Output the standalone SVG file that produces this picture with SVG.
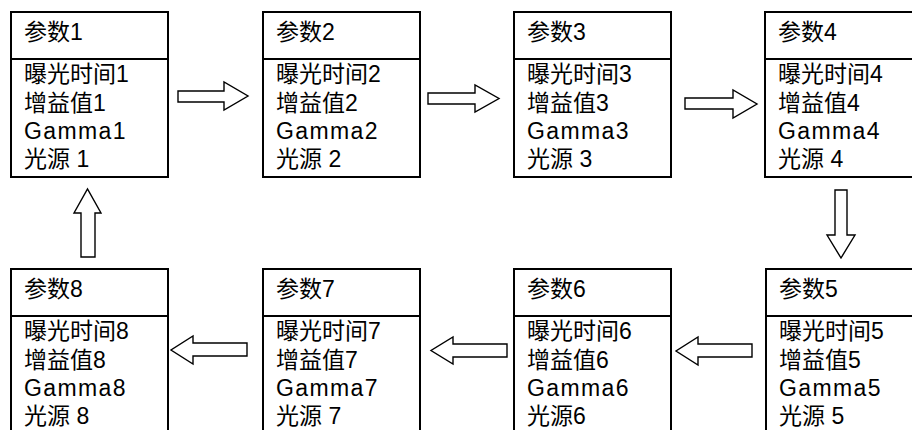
<svg xmlns="http://www.w3.org/2000/svg" width="912" height="430" viewBox="0 0 912 430">
<style>
.box{fill:#fff;stroke:#000;stroke-width:2}
.div{stroke:#000;stroke-width:2}
text{font-family:"Liberation Sans","Noto Sans CJK SC",sans-serif;font-size:23px;fill:#000}
.g{letter-spacing:1.4px}
.arr{fill:#fff;stroke:#000;stroke-width:1.4;stroke-linejoin:miter}
</style>
<rect width="912" height="430" fill="#fff"/>
<g id="node1">
<rect class="box" x="11" y="12" width="157" height="165"/>
<line class="div" x1="11" y1="59" x2="168" y2="59"/>
<text x="24" y="40">参数1</text>
<text x="24" y="82">曝光时间1</text>
<text x="24" y="111">增益值1</text>
<text class="g" x="24" y="139">Gamma1</text>
<text x="24" y="167">光源 1</text>
</g>
<g id="node2">
<rect class="box" x="263" y="12" width="157" height="165"/>
<line class="div" x1="263" y1="59" x2="420" y2="59"/>
<text x="276" y="40">参数2</text>
<text x="276" y="82">曝光时间2</text>
<text x="276" y="111">增益值2</text>
<text class="g" x="276" y="139">Gamma2</text>
<text x="276" y="167">光源 2</text>
</g>
<g id="node3">
<rect class="box" x="514" y="12" width="157" height="165"/>
<line class="div" x1="514" y1="59" x2="671" y2="59"/>
<text x="527" y="40">参数3</text>
<text x="527" y="82">曝光时间3</text>
<text x="527" y="111">增益值3</text>
<text class="g" x="527" y="139">Gamma3</text>
<text x="527" y="167">光源 3</text>
</g>
<g id="node4">
<rect class="box" x="765" y="12" width="157" height="165"/>
<line class="div" x1="765" y1="59" x2="922" y2="59"/>
<text x="778" y="40">参数4</text>
<text x="778" y="82">曝光时间4</text>
<text x="778" y="111">增益值4</text>
<text class="g" x="778" y="139">Gamma4</text>
<text x="778" y="167">光源 4</text>
</g>
<g id="node5">
<rect class="box" x="766" y="269" width="157" height="165"/>
<line class="div" x1="766" y1="316" x2="923" y2="316"/>
<text x="779" y="297">参数5</text>
<text x="779" y="339">曝光时间5</text>
<text x="779" y="368">增益值5</text>
<text class="g" x="779" y="396">Gamma5</text>
<text x="779" y="424">光源 5</text>
</g>
<g id="node6">
<rect class="box" x="514" y="269" width="157" height="165"/>
<line class="div" x1="514" y1="316" x2="671" y2="316"/>
<text x="527" y="297">参数6</text>
<text x="527" y="339">曝光时间6</text>
<text x="527" y="368">增益值6</text>
<text class="g" x="527" y="396">Gamma6</text>
<text x="527" y="424">光源6</text>
</g>
<g id="node7">
<rect class="box" x="263" y="269" width="157" height="165"/>
<line class="div" x1="263" y1="316" x2="420" y2="316"/>
<text x="276" y="297">参数7</text>
<text x="276" y="339">曝光时间7</text>
<text x="276" y="368">增益值7</text>
<text class="g" x="276" y="396">Gamma7</text>
<text x="276" y="424">光源 7</text>
</g>
<g id="node8">
<rect class="box" x="11" y="269" width="157" height="165"/>
<line class="div" x1="11" y1="316" x2="168" y2="316"/>
<text x="24" y="297">参数8</text>
<text x="24" y="339">曝光时间8</text>
<text x="24" y="368">增益值8</text>
<text class="g" x="24" y="396">Gamma8</text>
<text x="24" y="424">光源 8</text>
</g>
<g id="connectors">
<polygon class="arr" points="178,91 224,91 224,82 248,96 224,110 224,102 178,102"/>
<polygon class="arr" points="428,93 475,93 475,85 499,98.5 475,112 475,104 428,104"/>
<polygon class="arr" points="685,98 733,98 733,90 757,104 733,118 733,109 685,109"/>
<polygon class="arr" points="835,190 847,190 847,235 855,235 841,258 827,235 835,235"/>
<polygon class="arr" points="752,344 698,344 698,337 676,351 698,365 698,357 752,357"/>
<polygon class="arr" points="507,344 453,344 453,337 431,350.5 453,364 453,357 507,357"/>
<polygon class="arr" points="247,343 193,343 193,336 171,350 193,364 193,356 247,356"/>
<polygon class="arr" points="81,257 81,213 74,213 87.5,189 101,213 95,213 95,257"/>
</g>
</svg>
